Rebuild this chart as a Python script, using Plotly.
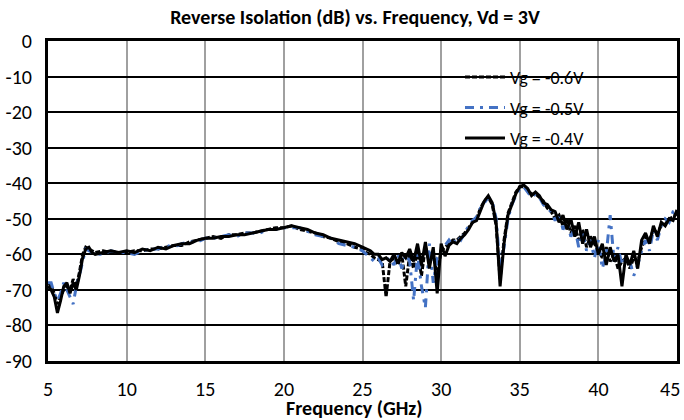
import plotly.graph_objects as go

# frequency points (GHz)
freq = [5.0, 5.2, 5.4, 5.6, 5.8, 6.0, 6.2, 6.4, 6.6, 6.8, 7.0, 7.2, 7.4, 7.6, 7.8, 8.0,
        8.5, 9.0, 9.5, 10.0, 10.5, 11.0, 11.5, 12.0, 12.5, 13.0, 13.5, 14.0, 14.5, 15.0,
        15.5, 16.0, 16.5, 17.0, 17.5, 18.0, 18.5, 19.0, 19.5, 20.0, 20.5, 21.0, 21.5,
        22.0, 22.5, 23.0, 23.5, 24.0, 24.5,
        25.0, 25.25, 25.5, 25.75, 26.0, 26.25, 26.5, 26.75,
        27.0, 27.25, 27.5, 27.75, 28.0, 28.25, 28.5, 28.75,
        29.0, 29.25, 29.5, 29.75, 30.0, 30.25, 30.5, 30.75,
        31.0, 31.25, 31.5, 31.75, 32.0, 32.25, 32.5, 32.75,
        33.0, 33.25, 33.5, 33.75, 34.0, 34.25, 34.5, 34.75,
        35.0, 35.25, 35.5, 35.75, 36.0, 36.25, 36.5, 36.75,
        37.0, 37.25, 37.5, 37.75, 38.0, 38.25, 38.5, 38.75,
        39.0, 39.25, 39.5, 39.75, 40.0, 40.25, 40.5, 40.75,
        41.0, 41.25, 41.5, 41.75, 42.0, 42.25, 42.5, 42.75,
        43.0, 43.25, 43.5, 43.75, 44.0, 44.25, 44.5, 44.75,
        45.0]

# Vg = -0.6V (dashed black)
vg_06 = [-68, -69, -71, -74, -72, -70, -69, -70, -67, -69, -65, -60, -58, -58.5, -59, -59.5,
         -59, -59.5, -59.5, -59.5, -59, -59, -58.5, -58.5, -58, -57.5, -57.5, -56.5, -56, -55.5,
         -55, -55.5, -54.5, -54.5, -54, -54, -53.5, -53, -52.5, -52.5, -52, -53, -53.5,
         -54, -55, -55.5, -56.5, -57, -58,
         -58.5, -59.5, -60, -61, -61.5, -62, -72, -62,
         -61, -63, -60, -69, -60, -64, -59, -66,
         -58, -62, -60, -66, -59, -58, -57, -56,
         -56, -55, -54, -52.5, -51, -50, -47, -45,
         -44, -46, -52, -67, -56, -48.5, -45.5, -42.5,
         -41, -41, -42, -43, -43, -44, -45, -47,
         -48, -50, -49, -52, -50, -54, -52, -56,
         -53, -58, -55, -57, -59, -61, -58, -62,
         -60, -64, -62, -61, -64, -61, -62, -58,
         -55, -56, -53, -54, -52, -51.5, -50, -49.5,
         -48.5]

# Vg = -0.5V (dash-dot blue)
vg_05 = [-68, -68, -71, -73, -71, -68, -70, -72, -74, -69, -66, -62, -58.5, -59, -59.5, -60,
         -60, -59, -59.5, -59.5, -60, -59, -58.5, -58.5, -57.5, -58, -57, -56.5, -56.5, -55.5,
         -55.5, -55, -54.5, -55, -54, -54, -54, -53, -53, -52.5, -52.5, -52.5, -53.5,
         -54.5, -55, -55.5, -57, -57.5, -58,
         -59, -60, -61, -62, -61, -63, -62, -61,
         -63, -60, -64, -60, -62, -73, -60, -69,
         -75, -57, -68, -61, -59, -57.5, -56, -57.5,
         -55, -56, -54, -52, -50.5, -49.5, -47, -45.5,
         -44, -45, -50, -64, -58, -50, -46, -43.5,
         -41.5, -41, -42.5, -44, -43, -44, -46, -47,
         -48, -50.5, -48.5, -53, -51, -55, -52.5, -58,
         -54, -59, -56, -61, -56, -64, -60, -49,
         -62, -58, -63, -61, -62, -66, -63, -59,
         -56, -59, -53, -56, -52, -50, -51, -48,
         -47.5]

# Vg = -0.4V (solid black)
vg_04 = [-69, -70, -72, -76.5, -73, -69, -68, -71, -68, -70, -66, -61, -58.5, -58, -59.5, -60,
         -59.5, -59, -59.5, -59, -59.5, -58.5, -59, -58, -58.5, -57.5, -57, -57, -56, -55.5,
         -55.5, -55, -55, -54.5, -54.5, -54, -53.5, -53, -53, -52.5, -52, -52.5, -53,
         -54, -54.5, -55.5, -56, -56.5, -57,
         -58, -58.5, -59, -60, -60, -61.5, -61, -62,
         -60, -62.5, -59.5, -61, -58.5, -62, -57, -63,
         -56.5, -64, -58, -71, -57, -60.5, -57.5, -56.5,
         -57, -55.5, -54.5, -53, -51, -50.5, -47.5, -45,
         -43.5, -45.5, -51, -69, -57, -49, -46, -43,
         -41, -40.5, -41.5, -43.5, -42.5, -43.5, -45.5, -46,
         -47.5, -48, -51, -49, -53, -50, -55, -51,
         -57, -53, -58, -55, -60, -57, -63, -58,
         -62, -60, -69, -60, -63, -59, -64, -56,
         -54, -57, -52, -55, -51, -52, -50, -50.5,
         -47.5]

# axis ticks (Excel style hyphen minus)
x_ticks = [5, 10, 15, 20, 25, 30, 35, 40, 45]
x_tick_text = ['5', '10', '15', '20', '25', '30', '35', '40', '45&nbsp;&nbsp;&nbsp;']
y_ticks = [0, -10, -20, -30, -40, -50, -60, -70, -80, -90]
y_tick_text = ['0', '-10', '-20', '-30', '-40', '-50', '-60', '-70', '-80', '-90']

assert len(freq) == len(vg_06) == len(vg_05) == len(vg_04)

FONT = "Carlito, Lato, 'Open Sans', sans-serif"
W, H = 684, 420

fig = go.Figure()

fig.add_trace(go.Scatter(
    x=freq, y=vg_06, mode='lines', name='Vg = -0.6V',
    line=dict(color='black', width=3, dash='5px,2px'),
    legendgroup='a'
))
fig.add_trace(go.Scatter(
    x=freq, y=vg_05, mode='lines', name='Vg = -0.5V',
    line=dict(color='#4472C4', width=3, dash='9px,6px,3px,6px'),
    legendgroup='b'
))
fig.add_trace(go.Scatter(
    x=freq, y=vg_04, mode='lines', name='Vg = -0.4V',
    line=dict(color='black', width=3),
    legendgroup='c'
))

fig.update_xaxes(
    range=[5, 45], tickvals=x_ticks, ticktext=x_tick_text,
    showgrid=True, gridcolor='#a0a0a0', gridwidth=1.5,
    showline=True, linecolor='black', linewidth=3, mirror=True,
    zeroline=False, ticks='', ticklabelstandoff=8, automargin=False,
    ticklabeloverflow='allow',
    tickfont=dict(size=20, color='black', family=FONT)
)
fig.update_yaxes(
    range=[-90, 0], tickvals=y_ticks, ticktext=y_tick_text,
    showgrid=True, gridcolor='black', gridwidth=1.5,
    showline=True, linecolor='black', linewidth=3, mirror=True,
    zeroline=False, ticks='', ticklabelstandoff=9, automargin=False,
    tickfont=dict(size=20, color='black', family=FONT)
)

# white area behind the legend, hiding the gridlines there
fig.add_shape(type='rect', xref='paper', yref='paper',
              x0=0.61, x1=0.897, y0=0.6375, y1=0.94,
              fillcolor='white', line_width=0, layer='between')

# x axis title
fig.add_annotation(text='<b>Frequency (GHz)</b>', xref='paper', yref='paper',
                   x=0.488, y=-0.147, xanchor='center', yanchor='middle',
                   showarrow=False, font=dict(size=20, color='black', family=FONT))

fig.update_layout(
    width=W, height=H,
    margin=dict(l=48, r=7, t=41, b=59),
    paper_bgcolor='white', plot_bgcolor='white',
    title=dict(text='<b>Reverse Isolation (dB) vs. Frequency, Vd = 3V</b>',
               x=0.488, xref='paper', xanchor='center',
               y=1 - 17 / H, yref='container', yanchor='middle',
               font=dict(size=20, color='black', family=FONT)),
    legend=dict(
        x=0.655, y=0.944, xanchor='left', yanchor='top',
        bgcolor='rgba(0,0,0,0)', borderwidth=0,
        font=dict(size=18, color='black', family=FONT),
        tracegroupgap=4, itemwidth=40
    ),
    font=dict(family=FONT, color='black')
)

# drop the default page margin so the figure fills the window
fig.write_html("out.html", config={'displayModeBar': False},
               post_script="document.body.style.margin='0';")
